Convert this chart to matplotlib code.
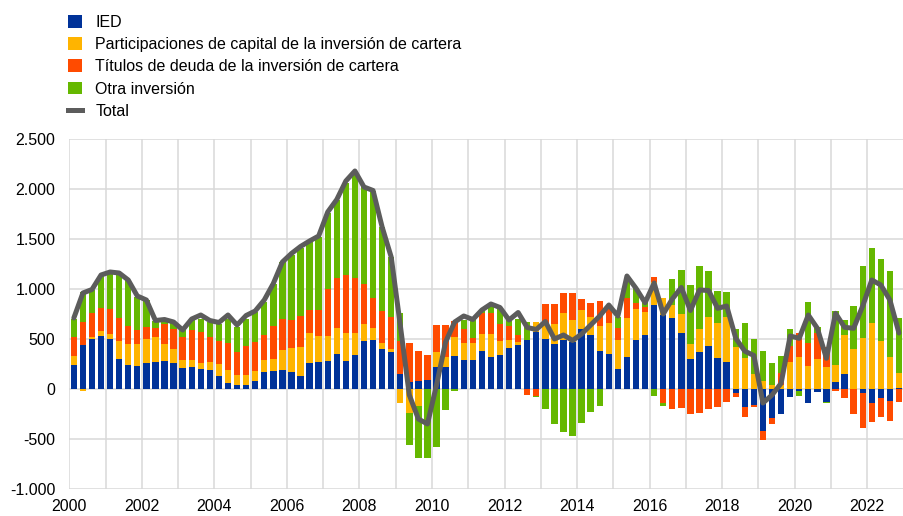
import numpy as np
import pandas as pd
import matplotlib
matplotlib.use("Agg")
import matplotlib.pyplot as plt
from matplotlib.patches import Patch
from matplotlib.lines import Line2D

plt.rcParams['font.family'] = ['Liberation Sans', 'DejaVu Sans']

# quarterly flows, 2000Q1 - 2022Q4
quarters = pd.period_range('2000Q1', '2022Q4', freq='Q')

ied = [240, 445, 500, 535, 500, 300, 245, 235, 265, 270, 280, 265,
       210, 225, 205, 195, 135, 65, 45, 45, 85, 175, 180, 190,
       175, 135, 260, 275, 280, 350, 280, 340, 480, 490, 405, 375,
       150, 75, 80, 90, 223, 223, 335, 295, 295, 385, 325, 345,
       410, 440, 490, 575, 500, 450, 495, 467, 600, 540, 383, 347,
       197, 323, 490, 540, 840, 740, 713, 563, 297, 373, 433, 307,
       273, -43, -177, -160, -417, -293, -253, -77, -15, -143, -27, -130,
       73, 150, 0, -43, -137, -87, -120, 13]

acciones = [90, -15, 25, 45, 55, 185, 210, 220, 235, 250, 175, 135,
            80, 70, 55, 80, 115, 125, 95, 95, 100, 115, 120, 200,
            240, 290, 305, 255, 250, 265, 285, 225, 170, 125, 60, 30,
            -135, -235, -165, 0, 145, 100, 185, 170, 170, 165, 225, 140,
            80, 35, 0, 100, 140, 200, 270, 223, 190, 177, 250, 316,
            293, 384, 307, 233, 233, 167, 127, 187, 153, 224, 290, 350,
            447, 417, 307, 147, 80, 40, 40, 267, 323, 230, 300, 217,
            167, 390, 397, 507, 657, 480, 317, 147]

deuda = [190, 230, 240, 235, 245, 225, 175, 140, 125, 95, 195, 205,
         235, 295, 315, 250, 230, 275, 235, 295, 285, 250, 335, 310,
         280, 310, 230, 265, 467, 500, 575, 550, 400, 295, 315, 320,
         330, 390, 300, 250, 270, 317, 160, 135, 45, 215, 215, 170,
         145, 65, -55, -65, 215, 200, 195, 267, 107, 146, 247, 134,
         123, 206, 60, 44, 44, -143, -200, -193, -250, -243, -203, -177,
         -133, -33, -107, -17, -93, -60, 120, 163, 237, 233, 263, 200,
         -17, -87, -250, -343, -197, -190, -200, -133]

otra = [180, 295, 230, 325, 370, 450, 460, 325, 265, 70, 40, 55,
        65, 110, 125, 150, 175, 235, 250, 265, 305, 335, 420, 575,
        650, 675, 685, 725, 765, 775, 920, 1025, 980, 1075, 845, 600,
        285, -320, -520, -690, -580, -210, -15, 95, 195, 25, 85, 155,
        55, 160, 185, -15, -195, -350, -430, -470, -337, -227, -167, 40,
        110, 200, 150, 56, -70, -24, 260, 440, 590, 633, 457, 326,
        247, 180, 357, 353, 303, 217, 170, 170, -55, 410, 60, -10,
        540, 150, 436, 723, 750, 817, 863, 550]

total = [710, 960, 995, 1140, 1170, 1160, 1090, 930, 890, 685, 695, 670,
         590, 700, 740, 685, 665, 740, 640, 735, 780, 890, 1055, 1270,
         1355, 1425, 1480, 1530, 1770, 1895, 2080, 2180, 2020, 1985, 1620, 1320,
         640, -60, -300, -350, 40, 470, 670, 730, 695, 790, 850, 815,
         690, 765, 615, 595, 675, 500, 540, 485, 550, 640, 730, 840,
         730, 1130, 1007, 863, 1060, 750, 900, 1015, 785, 990, 985, 807,
         830, 507, 378, 335, -140, -60, 57, 530, 507, 740, 607, 307,
         757, 617, 607, 830, 1090, 1040, 890, 560]

labels = ['IED',
          'Participaciones de capital de la inversión de cartera',
          'Títulos de deuda de la inversión de cartera',
          'Otra inversión']
colors = ['#003299', '#ffb400', '#ff4b00', '#65b800']
line_color = '#5c5c5c'

x = quarters.year + (quarters.quarter - 0.5) / 4.0

fig = plt.figure(figsize=(9.04, 5.16), dpi=100)
ax = fig.add_axes([69.3 / 904, 27 / 516, (903.5 - 69.3) / 904, 350 / 516])

pos_base = np.zeros(len(x))
neg_base = np.zeros(len(x))
for vals, c in zip([ied, acciones, deuda, otra], colors):
    v = np.array(vals, dtype=float)
    base = np.where(v >= 0, pos_base, neg_base)
    ax.bar(x, v, width=0.176, bottom=base, color=c, linewidth=0, zorder=2)
    pos_base = pos_base + np.where(v >= 0, v, 0)
    neg_base = neg_base + np.where(v < 0, v, 0)

ax.plot(x, total, color=line_color, lw=3.6, solid_joinstyle='round',
        solid_capstyle='round', zorder=3)

ax.set_xlim(2000, 2023)
ax.set_ylim(-1000, 2500)
ax.set_xticks(range(2000, 2023, 2))
ax.set_xticks(range(2000, 2024), minor=True)
ax.set_yticks(range(-1000, 2501, 500))
ax.set_yticklabels(['{:,.0f}'.format(v).replace(',', '.') for v in range(-1000, 2501, 500)])
ax.grid(True, which='both', color='#d9d9d9', lw=1.1, zorder=0)
ax.set_axisbelow(True)
ax.tick_params(which='both', length=0, labelsize=11.5, colors='#000000')
ax.tick_params(axis='x', pad=7)
ax.tick_params(axis='y', pad=10)
for s in ax.spines.values():
    s.set_visible(False)

handles = [Patch(facecolor=c, edgecolor='none') for c in colors]
handles.append(Line2D([], [], color=line_color, lw=3.6))
fig.legend(handles, labels + ['Total'], loc='upper left',
           bbox_to_anchor=(68 / 904, 1 - 15 / 516), frameon=False,
           fontsize=11.5, handlelength=0.85, handleheight=0.85,
           handletextpad=0.85, labelspacing=0.45, borderpad=0, borderaxespad=0)

fig.savefig('out.png', dpi=100)
